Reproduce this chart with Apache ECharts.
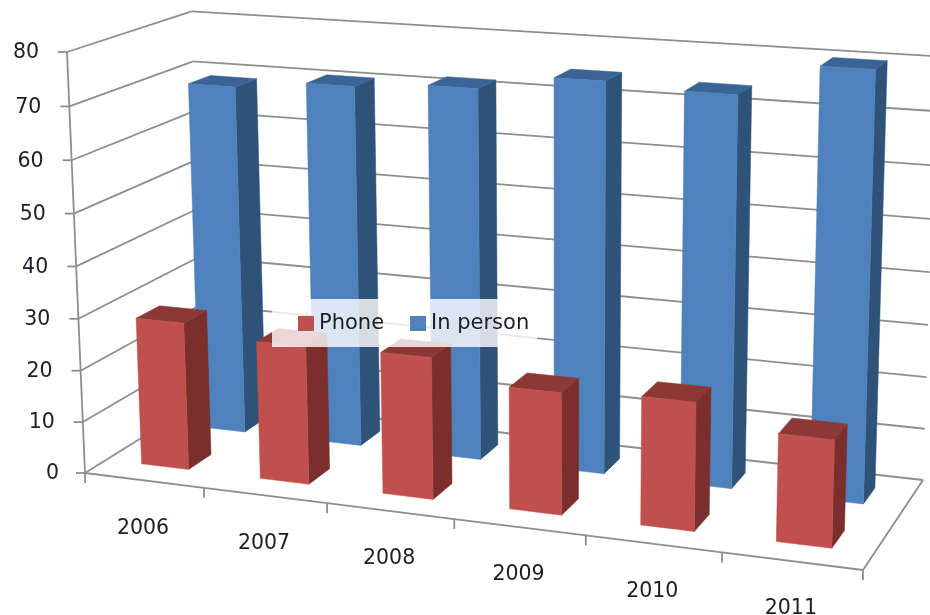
<!DOCTYPE html>
<html><head><meta charset="utf-8">
<style>html,body{margin:0;padding:0;background:#fff}#c{width:930px;height:615px}</style>
<script src="https://cdn.jsdelivr.net/npm/echarts@6/dist/echarts.min.js"></script>
</head><body><div id="c"></div>
<script>
const years = ['2006','2007','2008','2009','2010','2011'];
const phone = [28.6, 26.5, 26.9, 22.9, 23.8, 19.7];
const inPerson = [68.9, 70.6, 71.8, 74.8, 73.9, 80];
const valueTicks = [0,10,20,30,40,50,60,70,80];

// Camera: where the chart box's corners land on the page
const O=[85,473], X=[863,570], Y=[204,399], Z=[67,52], XY=[923,480], YZX=[937,57];
function cross(a,b){return [a[1]*b[2]-a[2]*b[1],a[2]*b[0]-a[0]*b[2],a[0]*b[1]-a[1]*b[0]];}
function h(p){return [p[0],p[1],1];}
function meet(a,b,c,d){const r=cross(cross(h(a),h(b)),cross(h(c),h(d)));return [r[0]/r[2],r[1]/r[2]];}
const Vx=meet(O,X,Y,XY), Vd=meet(O,Y,X,XY), Vz=meet(O,Z,XY,YZX);
const sx=(X[0]-O[0])/(Vx[0]-X[0]), sd=(Y[0]-O[0])/(Vd[0]-Y[0]), sz=(Z[1]-O[1])/(Vz[1]-Z[1]);
function proj(u,d,v){
  const w=sx*u+sd*d+sz*v+1;
  return [(sx*u*Vx[0]+sd*d*Vd[0]+sz*v*Vz[0]+O[0])/w,(sx*u*Vx[1]+sd*d*Vd[1]+sz*v*Vz[1]+O[1])/w];
}
// Flat scale position -> box fractions
function norm(params,api,cat,val){
  const r=params.coordSys, c=api.coord([cat,val]);
  return {u:(c[0]-r.x)/r.width, v:(r.y+r.height-c[1])/r.height, band:api.size([1,0])[0]/r.width};
}
const FONT='"DejaVu Sans"', TXT='#1c1e28', GRID='#8e8e8e';
function seg(a,b){return {type:'line',shape:{x1:a[0],y1:a[1],x2:b[0],y2:b[1]},style:{stroke:GRID,lineWidth:1.8}};}
function label(t,x,y,al){return {type:'text',style:{text:t,x:x,y:y,align:al,verticalAlign:'middle',textAlign:al,textVerticalAlign:'middle',fill:TXT,fontSize:20.5,fontFamily:FONT}};}

function valueFrame(params,api){
  const t=api.value(1), n=norm(params,api,0,t);
  const a=proj(0,0,n.v), b=proj(0,1,n.v), c=proj(1,1,n.v);
  const kids=[seg(a,b),seg(b,c),seg([a[0]-9,a[1]],a),label(String(t),a[0]-28+(t===0?2:0),a[1]+1,'right')];
  if(t<80){const a2=proj(0,0,n.v+0.125); kids.push(seg(a,a2));}
  return {type:'group',children:kids};
}
function catFrame(params,api){
  const i=api.value(0), n=norm(params,api,i,0);
  const l=proj(n.u-n.band/2,0,0), r=proj(n.u+n.band/2,0,0), m=proj(n.u,0,0);
  const kids=[seg(l,r),seg(l,[l[0],l[1]+10]),label(years[i],m[0]-1,m[1]+48,'center')];
  if(i===years.length-1){
    kids.push(seg(r,[r[0],r[1]+10]));
    kids.push(seg(proj(1,0,0),proj(1,1,0)));
  }
  return {type:'group',children:kids};
}
function barRender(d0,d1,front,side,top){
  return function(params,api){
    const n=norm(params,api,api.value(0),api.value(1));
    const hw=n.band*0.2, u0=n.u-hw, u1=n.u+hw, v=n.v;
    const poly=(pts,c)=>({type:'polygon',shape:{points:pts},style:{fill:c,stroke:c,lineWidth:0.5}});
    return {type:'group',children:[
      poly([proj(u1,d0,0),proj(u1,d1,0),proj(u1,d1,v),proj(u1,d0,v)],side),
      poly([proj(u0,d0,v),proj(u1,d0,v),proj(u1,d1,v),proj(u0,d1,v)],top),
      poly([proj(u0,d0,0),proj(u1,d0,0),proj(u1,d0,v),proj(u0,d0,v)],front)
    ]};
  };
}
const idx=a=>a.map((v,i)=>[i,v]);
const chart=echarts.init(document.getElementById('c'),null,{renderer:'canvas'});
chart.setOption({
  animation:false,
  backgroundColor:'#fff',
  grid:{left:0,right:0,top:0,bottom:0},
  xAxis:{type:'category',data:years,show:false},
  yAxis:{type:'value',min:0,max:80,interval:10,show:false},
  legend:{
    data:['Phone','In person'],left:272,top:299,
    padding:[14,8,13,26],itemGap:26,itemWidth:16,itemHeight:15,icon:'rect',
    backgroundColor:'rgba(255,255,255,0.8)',
    textStyle:{fontSize:21,fontFamily:FONT,color:TXT}
  },
  series:[
    {type:'custom',name:'value axis',silent:true,z:1,data:valueTicks.map(t=>[0,t]),renderItem:valueFrame,encode:{x:0,y:1}},
    {type:'custom',name:'category axis',silent:true,z:1,data:idx(years.map(()=>0)),renderItem:catFrame,encode:{x:0,y:1}},
    {type:'custom',name:'In person',z:2,itemStyle:{color:'#4f81bd'},data:idx(inPerson),encode:{x:0,y:1},
      renderItem:barRender(0.66,0.85,'#4f81bd','#2f5279','#3b6496')},
    {type:'custom',name:'Phone',z:3,itemStyle:{color:'#c0504d'},data:idx(phone),encode:{x:0,y:1},
      renderItem:barRender(0.17,0.36,'#c0504d','#7b2f2d','#8c3836')}
  ]
});
</script></body></html>
